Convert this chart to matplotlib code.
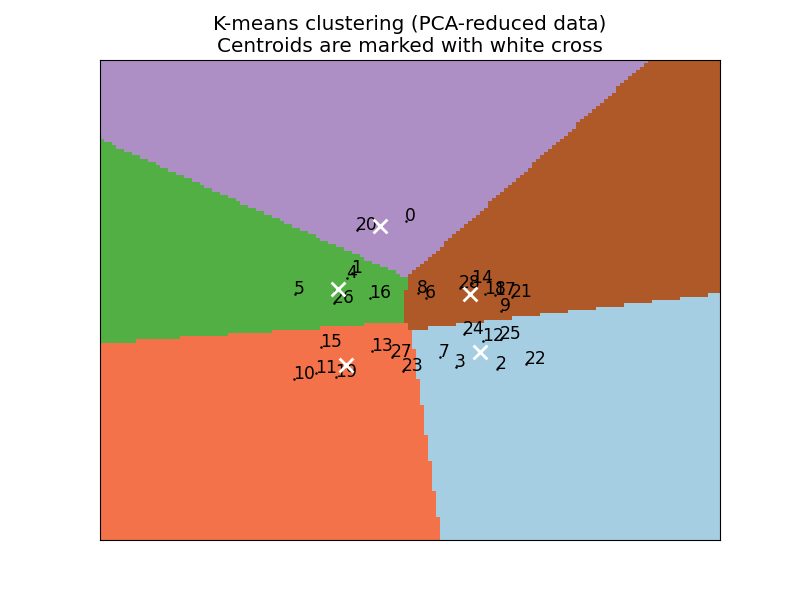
import numpy as np
import matplotlib
matplotlib.use("Agg")
import matplotlib.pyplot as plt
from matplotlib.colors import ListedColormap

# Reduced 2D points, index in the list is the label drawn next to the point
point_x = [-0.04, -0.58, 0.87, 0.46, -0.63, -1.15, 0.16, 0.30, 0.08, 0.91,
           -1.16, -0.94, 0.73, -0.38, 0.62, -0.89, -0.40, 0.85, 0.75, -0.74,
           -0.53, 1.02, 1.16, -0.07, 0.54, 0.91, -0.76, -0.18, 0.50]
point_y = [0.96, 0.33, -0.84, -0.81, 0.27, 0.07, 0.02, -0.69, 0.08, -0.13,
           -0.96, -0.88, -0.50, -0.62, 0.21, -0.57, 0.02, 0.06, 0.07, -0.93,
           0.85, 0.04, -0.78, -0.86, -0.41, -0.47, -0.04, -0.69, 0.15]

centroid_x = [-0.30, -0.72, 0.60, 0.70, -0.64]
centroid_y = [0.897, 0.133, 0.073, -0.630, -0.788]

CLUSTER_COLORS = ["#ae8fc5", "#52af43", "#b05928", "#a6cee3", "#f4724a"]

X_MIN, X_MAX = -3.1, 3.1
Y_MIN, Y_MAX = -2.909, 2.909
H = 0.04

# Decision regions: nearest centroid on a mesh
xx, yy = np.meshgrid(np.arange(X_MIN, X_MAX, H), np.arange(Y_MIN, Y_MAX, H))
cx = np.array(centroid_x)[:, None, None]
cy = np.array(centroid_y)[:, None, None]
Z = np.argmin((xx - cx) ** 2 + (yy - cy) ** 2, axis=0)

fig, ax = plt.subplots(figsize=(8, 6), dpi=100)
fig.subplots_adjust(left=0.125, right=0.9, bottom=0.1, top=0.9)

ax.imshow(
    Z,
    interpolation="nearest",
    extent=(X_MIN, X_MAX, Y_MIN, Y_MAX),
    cmap=ListedColormap(CLUSTER_COLORS),
    aspect="auto",
    origin="lower",
)

ax.plot(point_x, point_y, "k.", markersize=1.6)
for i in range(len(point_x)):
    ax.annotate(str(i), (point_x[i], point_y[i]), xytext=(-0.7, 0),
                textcoords="offset points", fontsize=12.3, color="black")

ax.scatter(centroid_x, centroid_y, marker="x", s=100, linewidths=2, color="white", zorder=10)

ax.set_title("K-means clustering (PCA-reduced data)\nCentroids are marked with white cross", fontsize=14.4)
ax.set_xlim(X_MIN, X_MAX)
ax.set_ylim(Y_MIN, Y_MAX)
ax.set_xticks([])
ax.set_yticks([])

fig.savefig("out.png", dpi=100)
